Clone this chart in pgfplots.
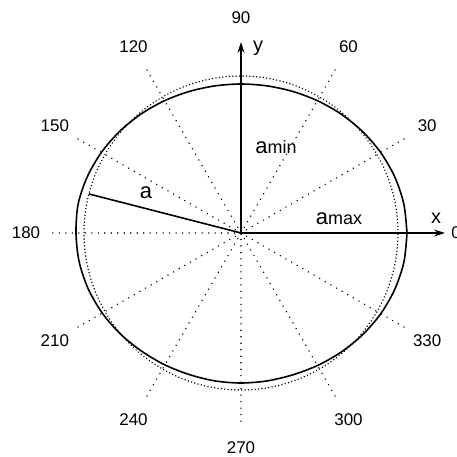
\documentclass[border=0pt]{standalone}
\usepackage{fontspec}
\setmainfont{Liberation Sans}
\usepackage{pgfplots}
\pgfplotsset{compat=1.18}
\usepgfplotslibrary{polar}
\usetikzlibrary{arrows.meta,calc}
\begin{document}
\begin{tikzpicture}
\begin{polaraxis}[
  scale only axis, width=386bp, height=386bp,
  ymin=0, ymax=193,
  xtick={0,30,...,330},
  ytick={157}, yticklabels={},
  xmajorgrids, ymajorgrids,
  x grid style={black, line width=1.6pt, dash pattern=on 0.01pt off 6.5pt, line cap=round},
  y grid style={black, line width=1.6pt, dash pattern=on 0.01pt off 3.4pt, line cap=round},
  axis line style={draw=none},
  xtick style={draw=none}, ytick style={draw=none},
  xticklabel style={anchor=center, inner sep=0pt, xshift={22bp*cos(\tick)}, yshift={22bp*sin(\tick)}, font=\fontsize{17}{20}\selectfont},
  /pgf/number format/assume math mode=true,
  clip=false,
]
\addplot[black, line width=1.6pt, smooth] coordinates {
 (0,166) (10,165.4) (20,163.7) (30,161.2) (40,158.3) (50,155.4) (60,152.8) (70,150.7) (80,149.4)
 (90,149) (100,149.4) (110,150.7) (120,152.8) (130,155.4) (140,158.3) (150,161.2) (160,163.7) (170,165.4)
 (180,165) (190,164.4) (200,162.7) (210,160.2) (220,157.3) (230,154.4) (240,152.3) (250,150.7) (260,150.2)
 (270,150) (280,150.2) (290,151) (300,153) (310,155.6) (320,158.5) (330,161.4) (340,163.8) (350,165.5) (360,166)};
\addplot[black, line width=1.4pt, -{Stealth[length=11pt,width=7pt]}] coordinates {(0,0) (0,204)};
\addplot[black, line width=1.4pt, -{Stealth[length=11pt,width=7pt]}] coordinates {(90,0) (90,191)};
\addplot[black, line width=1.6pt] coordinates {(165.6,0) (165.6,157)};
\addplot[black, only marks, mark=*, mark size=1.6pt] coordinates {(0,0)};
\coordinate (C) at (axis cs:0,0);
\node[font=\fontsize{20}{24}\selectfont] at ($(C)+(195bp,15bp)$) {x};
\node[font=\fontsize{20}{24}\selectfont] at ($(C)+(17bp,185bp)$) {y};
\node[inner sep=0pt] at ($(C)+(35bp,86bp)$) {\fontsize{22}{26}\selectfont a\fontsize{18}{22}\selectfont min};
\node[inner sep=0pt] at ($(C)+(98bp,14bp)$) {\fontsize{22}{26}\selectfont a\fontsize{18}{22}\selectfont max};
\node[inner sep=0pt] at ($(C)+(-95bp,40bp)$) {\fontsize{22}{26}\selectfont a};
\end{polaraxis}
\pgfresetboundingbox
\path[use as bounding box] ($(C)+(-241bp,-224bp)$) rectangle ($(C)+(216bp,233bp)$);
\end{tikzpicture}
\end{document}
